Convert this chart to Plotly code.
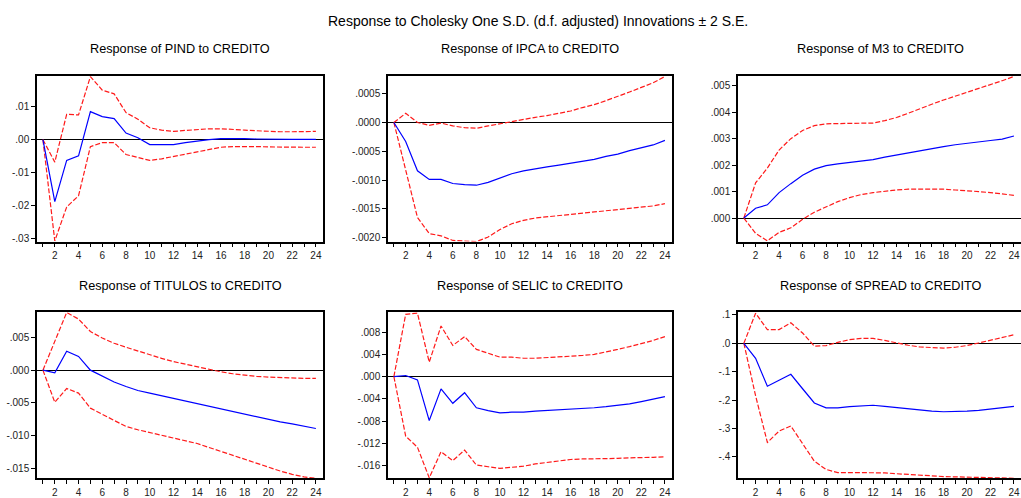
import plotly.graph_objects as go

# Impulse-response horizon (periods)
periods = list(range(1, 25))

# Response of PIND to CREDITO
pind_resp = [0.0, -0.0188, -0.0063, -0.0049, 0.0085, 0.0070, 0.0064, 0.0020, 0.0006, -0.0015,
             -0.0015, -0.0015, -0.0009, -0.0004, 0.0000, 0.0003, 0.0004, 0.0003, 0.0002, 0.0001,
             0.0001, 0.0001, 0.0001, 0.0001]
pind_upper = [0.0, -0.0068, 0.0077, 0.0075, 0.0191, 0.0150, 0.0139, 0.0082, 0.0062, 0.0036,
              0.0029, 0.0025, 0.0028, 0.0031, 0.0033, 0.0033, 0.0032, 0.0029, 0.0027, 0.0025,
              0.0024, 0.0024, 0.0025, 0.0025]
pind_lower = [0.0, -0.0307, -0.0204, -0.0170, -0.0021, -0.0009, -0.0009, -0.0045, -0.0054, -0.0063,
              -0.0058, -0.0051, -0.0042, -0.0035, -0.0028, -0.0023, -0.0021, -0.0020, -0.0021, -0.0022,
              -0.0023, -0.0023, -0.0023, -0.0023]

# Response of IPCA to CREDITO
ipca_resp = [0.0, -0.00033, -0.00084, -0.00099, -0.00099, -0.00106, -0.00108, -0.00109, -0.00104, -0.00097,
             -0.00089, -0.00084, -0.00080, -0.00077, -0.00074, -0.00071, -0.00068, -0.00064, -0.00059, -0.00055,
             -0.00049, -0.00044, -0.00039, -0.00031]
ipca_upper = [0.0, 0.00016, 0.0, -0.00005, -0.00001, -0.00006, -0.00009, -0.00010, -0.00006, -0.00002,
              0.00002, 0.00006, 0.00009, 0.00012, 0.00016, 0.00020, 0.00026, 0.00031, 0.00038, 0.00045,
              0.00053, 0.00061, 0.00069, 0.00080]
ipca_lower = [0.0, -0.00082, -0.00165, -0.00193, -0.00197, -0.00205, -0.00206, -0.00207, -0.00199, -0.00186,
              -0.00176, -0.00170, -0.00166, -0.00164, -0.00162, -0.00160, -0.00158, -0.00156, -0.00154, -0.00151,
              -0.00149, -0.00147, -0.00145, -0.00141]

# Response of M3 to CREDITO
m3_resp = [0.0, 0.00037, 0.00050, 0.00096, 0.00130, 0.00162, 0.00185, 0.00198, 0.00205, 0.00211,
           0.00216, 0.00221, 0.00230, 0.00238, 0.00247, 0.00256, 0.00264, 0.00270, 0.00277, 0.00283,
           0.00288, 0.00293, 0.00298, 0.00310]
m3_upper = [0.0, 0.00133, 0.00189, 0.00257, 0.00300, 0.00331, 0.00349, 0.00356, 0.00357, 0.00357,
            0.00357, 0.00359, 0.00368, 0.00380, 0.00396, 0.00414, 0.00430, 0.00446, 0.00460, 0.00475,
            0.00489, 0.00504, 0.00519, 0.00535]
m3_lower = [0.0, -0.00058, -0.00086, -0.00054, -0.00037, -0.00005, 0.00022, 0.00043, 0.00062, 0.00077,
            0.00089, 0.00096, 0.00102, 0.00106, 0.00109, 0.00109, 0.00109, 0.00109, 0.00106, 0.00104,
            0.00100, 0.00096, 0.00091, 0.00086]

# Response of TITULOS to CREDITO
titulos_resp = [0.0, -0.0004, 0.0029, 0.0021, 0.0, -0.00095, -0.0018, -0.0025, -0.0031, -0.0035,
                -0.0039, -0.0043, -0.0047, -0.0052, -0.0056, -0.0060, -0.0064, -0.0068, -0.0072, -0.0076,
                -0.0079, -0.0082, -0.0085, -0.0089]
titulos_upper = [0.0, 0.0044, 0.0088, 0.0078, 0.0059, 0.0049, 0.0041, 0.0035, 0.0029, 0.0024,
                 0.0018, 0.0013, 0.0009, 0.00045, 0.0001, -0.00025, -0.00055, -0.0008, -0.00095, -0.00105,
                 -0.00115, -0.0012, -0.00125, -0.00125]
titulos_lower = [0.0, -0.0049, -0.0028, -0.0035, -0.0058, -0.0067, -0.0077, -0.0086, -0.0091, -0.0095,
                 -0.0099, -0.0103, -0.0107, -0.0112, -0.0118, -0.0124, -0.0130, -0.0137, -0.0143, -0.0149,
                 -0.0154, -0.0159, -0.0163, -0.0165]

# Response of SELIC to CREDITO
selic_resp = [0.0, 0.0002, -0.0006, -0.0079, -0.0022, -0.0048, -0.0029, -0.0056, -0.0061, -0.0065,
              -0.0064, -0.0064, -0.0062, -0.0061, -0.0060, -0.0059, -0.0058, -0.0056, -0.0054, -0.0052,
              -0.0049, -0.0045, -0.0041, -0.0036]
selic_upper = [0.0, 0.0112, 0.0114, 0.0026, 0.0091, 0.0056, 0.0072, 0.0049, 0.0042, 0.0035,
               0.0035, 0.0033, 0.0033, 0.0034, 0.0035, 0.0036, 0.0038, 0.0040, 0.0044, 0.0049,
               0.0054, 0.0059, 0.0065, 0.0072]
selic_lower = [0.0, -0.0107, -0.0127, -0.0182, -0.0135, -0.0151, -0.0132, -0.0159, -0.0162, -0.0165,
               -0.0163, -0.0161, -0.0157, -0.0154, -0.0151, -0.0149, -0.0148, -0.0148, -0.0148, -0.0147,
               -0.0146, -0.0146, -0.0145, -0.0144]

# Response of SPREAD to CREDITO
spread_resp = [0.0, -0.053, -0.151, -0.130, -0.109, -0.160, -0.210, -0.227, -0.227, -0.223,
               -0.220, -0.218, -0.222, -0.226, -0.231, -0.236, -0.239, -0.241, -0.241, -0.239,
               -0.236, -0.232, -0.228, -0.222]
spread_upper = [0.0, 0.106, 0.048, 0.048, 0.072, 0.036, -0.010, -0.008, 0.003, 0.013,
                0.017, 0.017, 0.010, 0.001, -0.007, -0.013, -0.016, -0.017, -0.014, -0.008,
                0.001, 0.010, 0.020, 0.030]
spread_lower = [0.0, -0.185, -0.349, -0.309, -0.291, -0.352, -0.415, -0.444, -0.455, -0.455,
                -0.455, -0.455, -0.456, -0.459, -0.462, -0.464, -0.467, -0.469, -0.470, -0.471,
                -0.472, -0.474, -0.475, -0.475]

# Y tick values for each panel
pind_ticks = [-0.03, -0.02, -0.01, 0.0, 0.01]
ipca_ticks = [-0.002, -0.0015, -0.001, -0.0005, 0.0, 0.0005]
m3_ticks = [0.0, 0.001, 0.002, 0.003, 0.004, 0.005]
titulos_ticks = [-0.015, -0.01, -0.005, 0.0, 0.005]
selic_ticks = [-0.016, -0.012, -0.008, -0.004, 0.0, 0.004, 0.008]
spread_ticks = [-0.4, -0.3, -0.2, -0.1, 0.0, 0.1]

FONT = "Liberation Sans, Arial, sans-serif"
W, H = 1021, 498


def eviews_label(v, decimals):
    """Format a tick like EViews: no leading zero (.01, -.005)."""
    s = f"{v:.{decimals}f}"
    if s.startswith("-0."):
        s = "-" + s[2:]
    elif s.startswith("0."):
        s = s[1:]
    return s


panels = [
    dict(name="PIND", resp=pind_resp, up=pind_upper, lo=pind_lower, ticks=pind_ticks, dec=2,
         yr=[-0.0309, 0.0194], px=(37, 323), py=(74, 243), right=True),
    dict(name="IPCA", resp=ipca_resp, up=ipca_upper, lo=ipca_lower, ticks=ipca_ticks, dec=4,
         yr=[-0.00207, 0.000814], px=(388, 672), py=(74, 243), right=True),
    dict(name="M3", resp=m3_resp, up=m3_upper, lo=m3_lower, ticks=m3_ticks, dec=3,
         yr=[-0.00089, 0.00538], px=(738, 1021), py=(74, 243), right=False),
    dict(name="TITULOS", resp=titulos_resp, up=titulos_upper, lo=titulos_lower, ticks=titulos_ticks, dec=3,
         yr=[-0.0165, 0.00883], px=(37, 323), py=(315, 484), right=True),
    dict(name="SELIC", resp=selic_resp, up=selic_upper, lo=selic_lower, ticks=selic_ticks, dec=3,
         yr=[-0.01827, 0.01156], px=(388, 672), py=(315, 484), right=True),
    dict(name="SPREAD", resp=spread_resp, up=spread_upper, lo=spread_lower, ticks=spread_ticks, dec=1,
         yr=[-0.475, 0.109], px=(738, 1021), py=(315, 484), right=False),
]

fig = go.Figure()
annotations = []
x_ticktext = [str(p) if p % 2 == 0 else "" for p in periods]

for i, p in enumerate(panels, start=1):
    xa = "x" if i == 1 else f"x{i}"
    ya = "y" if i == 1 else f"y{i}"
    for series, color, dash in ((p["up"], "#ff1a1a", "5px,2px"),
                                (p["lo"], "#ff1a1a", "5px,2px"),
                                (p["resp"], "#0000ff", "solid")):
        fig.add_trace(go.Scatter(x=periods, y=series, mode="lines", xaxis=xa, yaxis=ya,
                                 line=dict(color=color, width=1.2, dash=dash),
                                 showlegend=False, hoverinfo="skip"))

    xdom = [p["px"][0] / W, min(p["px"][1] / W, 1.0)]
    ydom = [1 - p["py"][1] / H, 1 - p["py"][0] / H]
    xkey = "xaxis" if i == 1 else f"xaxis{i}"
    ykey = "yaxis" if i == 1 else f"yaxis{i}"
    fig.layout[xkey] = dict(
        domain=xdom, anchor=ya, range=[0.5, 24.6], showgrid=False, zeroline=False,
        showline=True, linecolor="black", linewidth=1.5, mirror=True,
        ticks="outside", ticklen=4, tickwidth=1, tickcolor="black",
        tickvals=periods, ticktext=x_ticktext,
        tickfont=dict(family=FONT, size=10, color="#222"),
    )
    fig.layout[ykey] = dict(
        domain=ydom, anchor=xa, range=p["yr"], showgrid=False,
        zeroline=True, zerolinecolor="black", zerolinewidth=1.3,
        showline=True, linecolor="black", linewidth=1.5, mirror=p["right"],
        ticks="outside", ticklen=4, tickwidth=1, tickcolor="black",
        tickvals=p["ticks"], ticktext=[eviews_label(v, p["dec"]) for v in p["ticks"]],
        tickfont=dict(family=FONT, size=10, color="#222"),
    )
    annotations.append(dict(
        text=f"Response of {p['name']} to CREDITO", xref="paper", yref="paper",
        x=(p["px"][0] + p["px"][1]) / 2 / W if p["right"] else (p["px"][0] + p["px"][0] + 285) / 2 / W,
        y=1 - (p["py"][0] - 27) / H, xanchor="center", yanchor="middle", showarrow=False,
        font=dict(family=FONT, size=12.7, color="black"),
    ))

annotations.append(dict(
    text="Response to Cholesky One S.D. (d.f. adjusted) Innovations \u00b1 2 S.E.",
    xref="paper", yref="paper", x=538 / W, y=1 - 18 / H, xanchor="center", yanchor="middle",
    showarrow=False, font=dict(family=FONT, size=14, color="black"),
))

fig.update_layout(
    width=W, height=H, margin=dict(l=0, r=0, t=0, b=0),
    paper_bgcolor="white", plot_bgcolor="white", annotations=annotations,
)

fig.write_html("out.html")
